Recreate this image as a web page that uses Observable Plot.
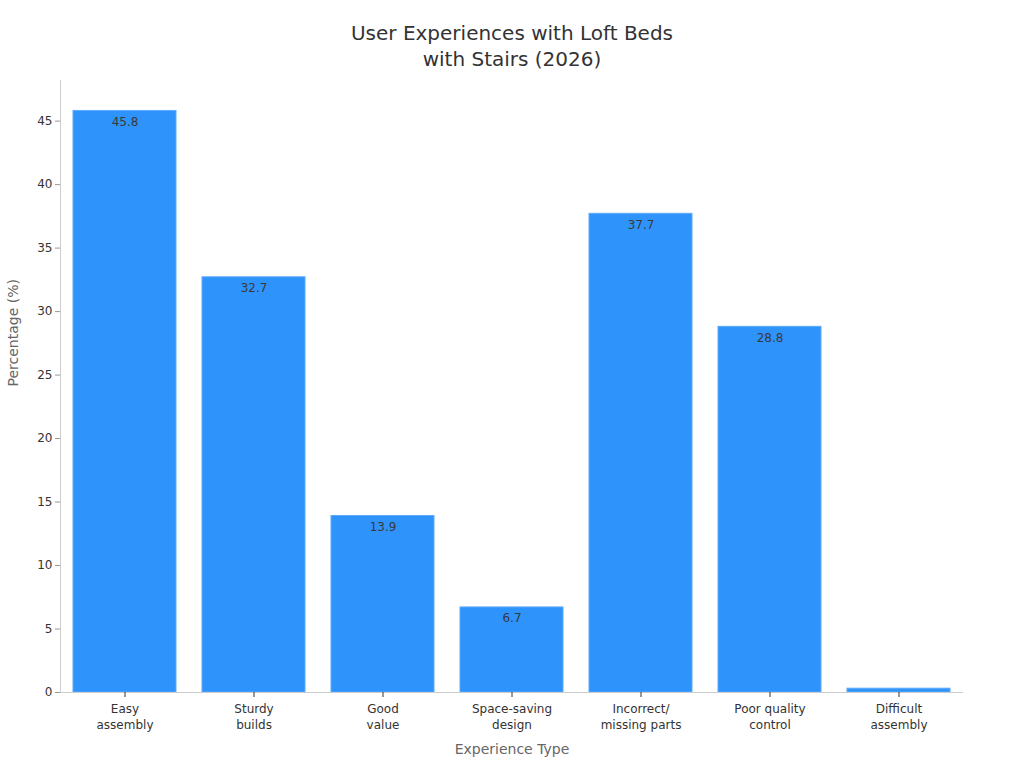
<!DOCTYPE html>
<html>
<head>
<meta charset="utf-8">
<script src="https://cdn.jsdelivr.net/npm/d3@7"></script>
<script src="https://cdn.jsdelivr.net/npm/@observablehq/plot@0.6"></script>
<style>
  body { margin: 0; background: #fff; font-family: "DejaVu Sans", sans-serif; }
  #title { height: 70px; box-sizing: border-box; padding-top: 20px; text-align: center; font-size: 20px; line-height: 26px; color: #333; }
  #chart svg { display: block; }
</style>
</head>
<body>
<div id="title">User Experiences with Loft Beds<br>with Stairs (2026)</div>
<div id="chart"></div>
<script>
const categories = ["Easy\nassembly", "Sturdy\nbuilds", "Good\nvalue", "Space-saving\ndesign", "Incorrect/\nmissing parts", "Poor quality\ncontrol", "Difficult\nassembly"];
const values = [45.8, 32.7, 13.9, 6.7, 37.7, 28.8, 0.3];
const yTicks = [0, 5, 10, 15, 20, 25, 30, 35, 40, 45];

const data = categories.map((c, i) => ({ category: c, value: values[i] }));

const chart = Plot.plot({
  width: 1024,
  height: 698,
  marginTop: 10,
  marginBottom: 76,
  marginLeft: 60,
  marginRight: 61,
  style: { fontFamily: "DejaVu Sans, sans-serif", fontSize: "12px", color: "#333", background: "#fff" },
  x: { domain: categories, paddingInner: 0.2, paddingOuter: 0.1, label: null },
  y: { domain: [0, 48.2], label: null },
  marks: [
    Plot.barY(data, { x: "category", y: "value", fill: "#2E93FA", stroke: "#5DAAFB", strokeWidth: 1 }),
    Plot.text(data.filter(d => d.value >= 1), { x: "category", y: "value", text: d => d.value.toFixed(1), dy: 11, fill: "#3a3a3a", fontSize: 12 }),
    Plot.frame({ anchor: "left", stroke: "#ccc" }),
    Plot.ruleY([0], { stroke: "#ccc" }),
    Plot.axisY({ ticks: yTicks, tickSize: 5, tickPadding: 3, stroke: "#999", fill: "#333", label: null, fontSize: 12 }),
    Plot.axisX({ tickSize: 5, tickPadding: 4, stroke: "#333", fill: "#333", label: null, fontSize: 12, lineHeight: 1.33 }),
    Plot.text(["Percentage (%)"], { frameAnchor: "left", dx: -47, rotate: -90, fill: "#666", fontSize: 14 }),
    Plot.text(["Experience Type"], { frameAnchor: "bottom", dy: 61, fill: "#666", fontSize: 14 })
  ]
});
document.getElementById("chart").appendChild(chart);
</script>
</body>
</html>
